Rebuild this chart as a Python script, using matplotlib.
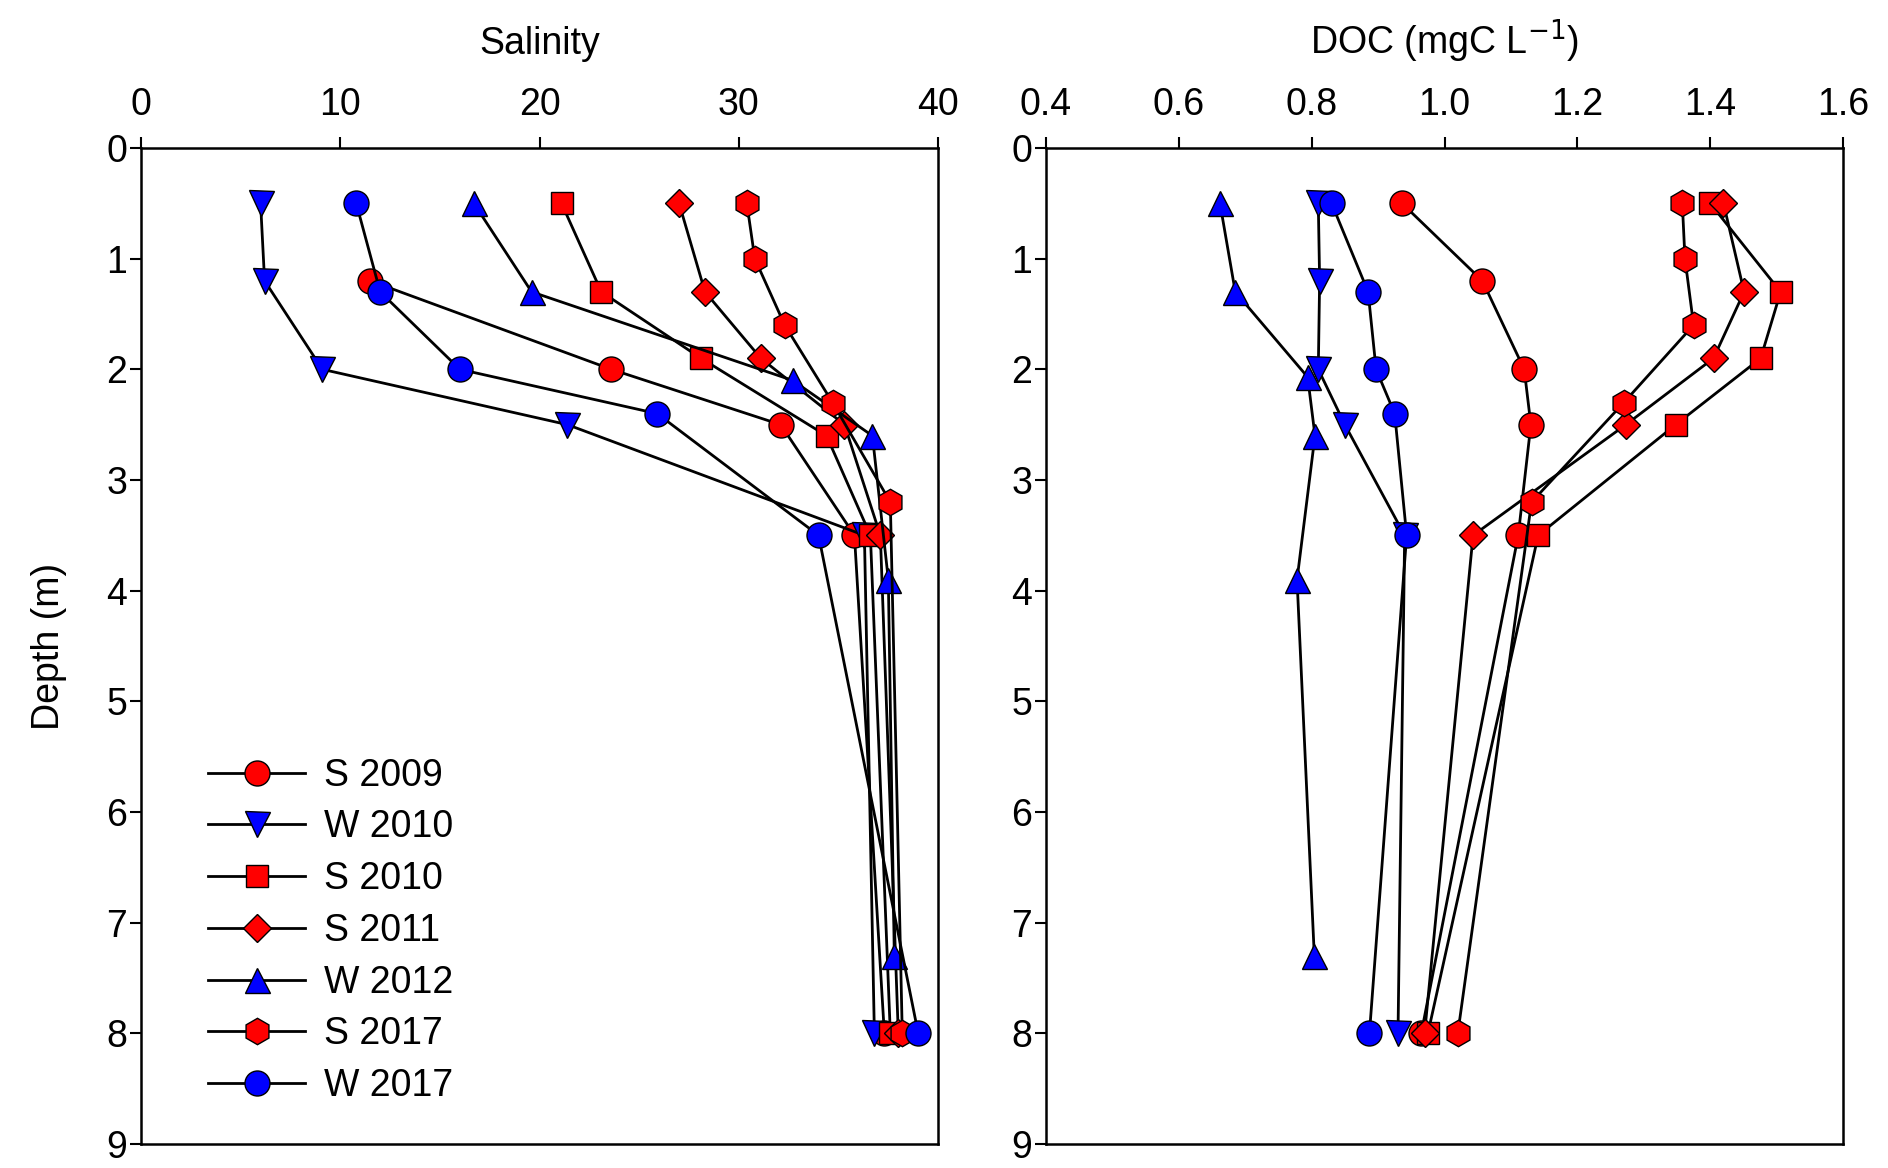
import matplotlib
matplotlib.use("Agg")
import matplotlib.pyplot as plt
import numpy as np

plt.rcParams['font.family'] = ['Liberation Sans', 'DejaVu Sans']

labels = ["S 2009", "W 2010", "S 2010", "S 2011", "W 2012", "S 2017", "W 2017"]
colors = ["red", "blue", "red", "red", "blue", "red", "blue"]
markers = ["o", "v", "s", "D", "^", "h", "o"]
msizes = [18, 18, 16, 14, 18, 19, 18]

# salinity profiles (depth in m)
sal_depth = [
    [1.2, 2.0, 2.5, 3.5, 8.0],
    [0.5, 1.2, 2.0, 2.5, 3.5, 8.0],
    [0.5, 1.3, 1.9, 2.6, 3.5, 8.0],
    [0.5, 1.3, 1.9, 2.5, 3.5, 8.0],
    [0.5, 1.3, 2.1, 2.6, 3.9, 7.3],
    [0.5, 1.0, 1.6, 2.3, 3.2, 8.0],
    [0.5, 1.3, 2.0, 2.4, 3.5, 8.0],
]
sal = [
    [11.5, 23.6, 32.1, 35.8, 37.3],
    [6.0, 6.2, 9.1, 21.4, 36.3, 36.8],
    [21.1, 23.1, 28.1, 34.4, 36.6, 37.6],
    [27.0, 28.3, 31.1, 35.3, 37.1, 38.0],
    [16.7, 19.6, 32.7, 36.7, 37.5, 37.8],
    [30.4, 30.8, 32.3, 34.7, 37.6, 38.2],
    [10.8, 12.0, 16.0, 25.9, 34.0, 39.0],
]

# DOC profiles
doc_depth = [
    [0.5, 1.2, 2.0, 2.5, 3.5, 8.0],
    [0.5, 1.2, 2.0, 2.5, 3.5, 8.0],
    [0.5, 1.3, 1.9, 2.5, 3.5, 8.0],
    [0.5, 1.3, 1.9, 2.5, 3.5, 8.0],
    [0.5, 1.3, 2.07, 2.6, 3.9, 7.3],
    [0.5, 1.0, 1.6, 2.3, 3.2, 8.0],
    [0.5, 1.3, 2.0, 2.4, 3.5, 8.0],
]
doc = [
    [0.936, 1.057, 1.12, 1.13, 1.111, 0.965],
    [0.81, 0.812, 0.81, 0.85, 0.94, 0.93],
    [1.40, 1.506, 1.476, 1.348, 1.141, 0.975],
    [1.42, 1.451, 1.405, 1.273, 1.043, 0.97],
    [0.662, 0.685, 0.794, 0.805, 0.778, 0.804],
    [1.358, 1.362, 1.375, 1.270, 1.131, 1.02],
    [0.83, 0.885, 0.897, 0.925, 0.943, 0.887],
]

fig = plt.figure(figsize=(18.88, 11.68), dpi=100)
ax1 = fig.add_axes([0.0747, 0.0205, 0.4222, 0.8528])
ax2 = fig.add_axes([0.5540, 0.0205, 0.4222, 0.8528])

fs = 27

for ax, dep, vals in [(ax1, sal_depth, sal), (ax2, doc_depth, doc)]:
    for i in range(len(labels)):
        ax.plot(vals[i], dep[i], color="black", lw=2.0, marker=markers[i],
                ms=msizes[i], mfc=colors[i], mec="black", mew=1.0,
                label=labels[i])
    ax.set_ylim(9, 0)
    ax.set_yticks(range(0, 10))
    ax.xaxis.set_ticks_position("top")
    ax.xaxis.set_label_position("top")
    ax.tick_params(axis="both", labelsize=fs, length=8, width=1.5,
                   direction="out")
    ax.tick_params(axis="x", pad=10)
    ax.tick_params(axis="y", pad=2)
    for s in ax.spines.values():
        s.set_linewidth(1.8)

ax1.set_xlim(0, 40)
ax1.set_xticks([0, 10, 20, 30, 40])
ax1.set_xlabel("Salinity", fontsize=fs, labelpad=24)
ax1.set_ylabel("Depth (m)", fontsize=fs, labelpad=28)

ax2.set_xlim(0.4, 1.6)
ax2.set_xticks(np.arange(0.4, 1.61, 0.2))
ax2.set_xticklabels(["0.4", "0.6", "0.8", "1.0", "1.2", "1.4", "1.6"])
ax2.set_xlabel("DOC (mgC L$^{-1}$)", fontsize=fs, labelpad=24)

ax1.legend(loc="lower left", bbox_to_anchor=(0.065, 0.025), frameon=False,
           fontsize=fs, handlelength=2.6, labelspacing=0.42,
           handletextpad=0.5, borderaxespad=0)

fig.savefig("out.png", dpi=100)
